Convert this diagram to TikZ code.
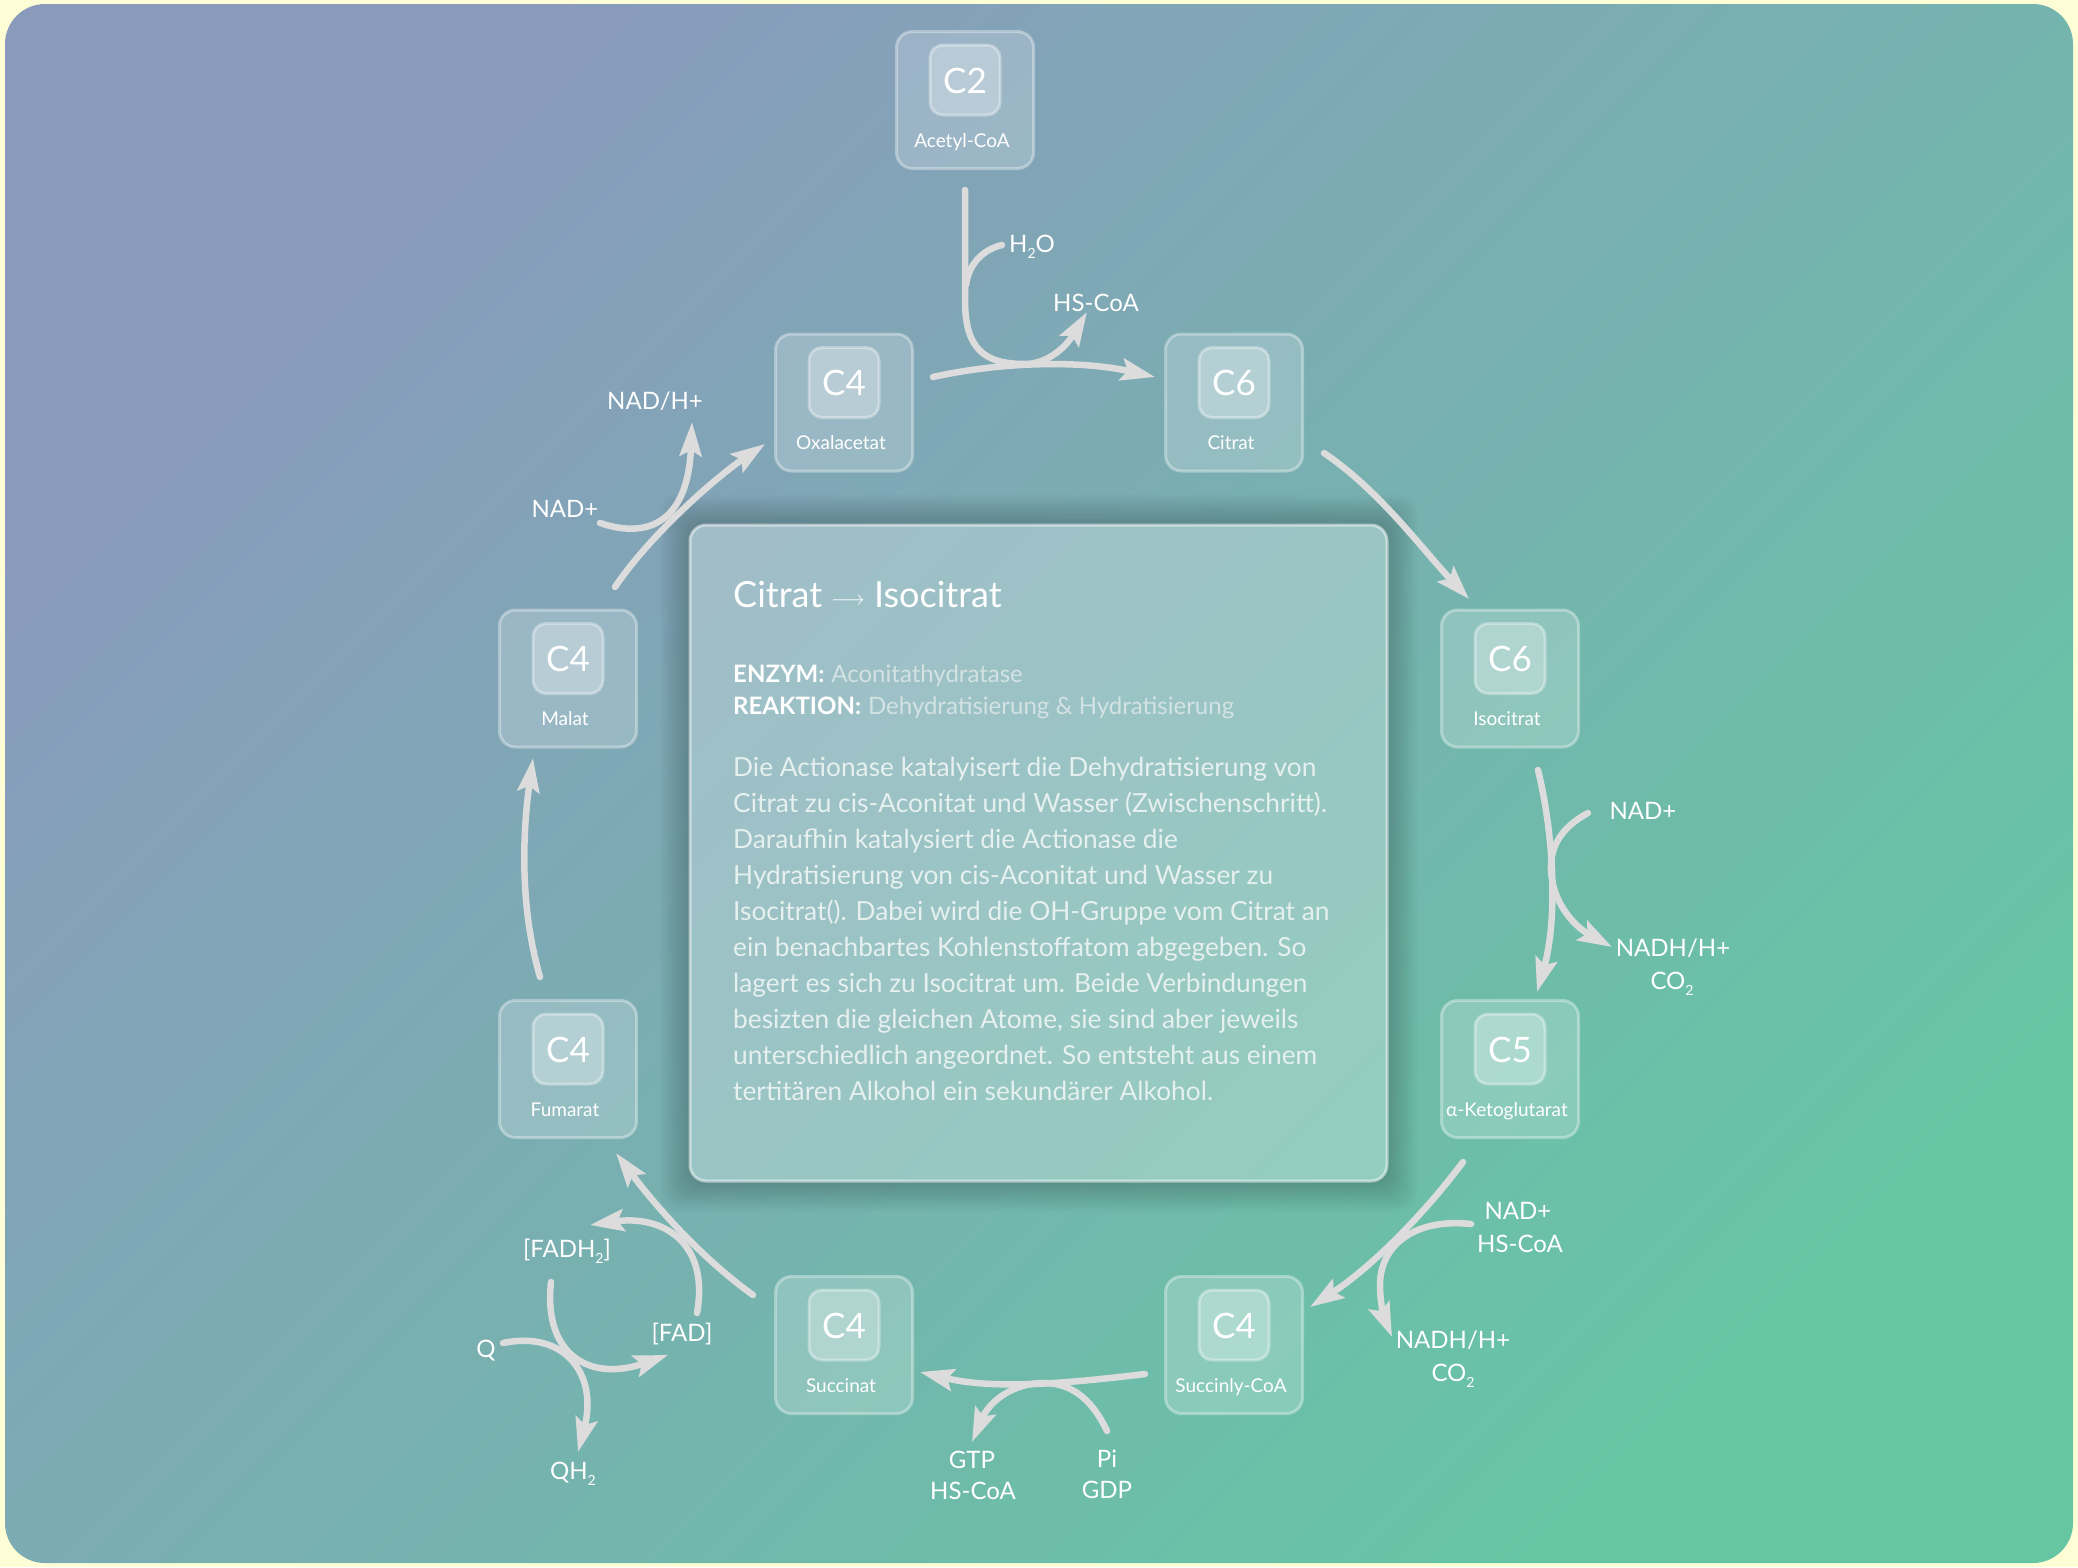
\documentclass[tikz,border=0pt]{standalone}
\usepackage{fontspec}
\setmainfont{Lato}
\usetikzlibrary{arrows.meta}
\definecolor{bgyellow}{HTML}{FEFED6}
\definecolor{gradA}{HTML}{8A9ABD}
\definecolor{gradB}{HTML}{66C6A4}
\definecolor{arrowgray}{HTML}{DCDCDC}
\definecolor{valcol}{HTML}{D3E2E3}
\definecolor{partext}{HTML}{E6F0EF}
\newcommand\lowidx[1]{\raisebox{-0.5ex}{\fontsize{14}{14}\selectfont #1}}
\newcommand\molbox[5]{%
  \node[outerbox] (#1) at (#2,#3) {};
  \node[innerbox] (#1in) at (#2,#3-20) {};
  \node[ctext] (#1c) at (#2,#3-7) {#4};
  \node[ntext] (#1l) at (#2-3,#3+47) {#5};
}
\tikzset{
  outerbox/.style={draw=white, draw opacity=0.35, line width=3pt, fill=white, fill opacity=0.2,
    rounded corners=16pt, minimum width=137pt, minimum height=137pt, inner sep=0pt},
  innerbox/.style={draw=white, draw opacity=0.35, line width=3pt, fill=white, fill opacity=0.3,
    rounded corners=13pt, minimum width=70pt, minimum height=70pt, inner sep=0pt},
  ctext/.style={anchor=base, inner sep=0pt, text=white, font=\fontsize{35}{35}\selectfont},
  ntext/.style={anchor=base, inner sep=0pt, text=white, font=\fontsize{19}{19}\selectfont},
  flow/.style={draw=arrowgray, line width=6.5pt, line cap=round},
  tip/.style={-{Stealth[length=34pt,width=22pt,inset=6pt]}},
  lbl/.style={anchor=base, inner sep=0pt, text=white, font=\fontsize{24}{24}\selectfont},
  partxt/.style={anchor=base west, inner sep=0pt, text=partext, font=\fontsize{26.3}{26.3}\selectfont},
}
\begin{document}
\begin{tikzpicture}[x=1pt,y=-1pt]
\useasboundingbox (0,0) rectangle (2078,1567);
\fill[bgyellow] (0,0) rectangle (2078,1567);
\shade[top color=gradA, bottom color=gradB, shading angle=45, rounded corners=40pt] (5,4) rectangle (2073,1563);

% panel shadow
\foreach \i in {1,...,10}{
  \fill[black, fill opacity=0.02, even odd rule, rounded corners=16pt]
    (690-3*\i,525-3*\i) rectangle (1387+3*\i,1181+3*\i) (690,525) rectangle (1387,1181);
}
\node[draw=white, draw opacity=0.5, line width=3pt, fill=white, fill opacity=0.26,
  rounded corners=16pt, minimum width=697pt, minimum height=656pt, inner sep=0pt] (panel) at (1038.5,853) {};

% molecules
\molbox{ac}{965}{100}{C2}{Acetyl-CoA}
\molbox{ox}{844}{402.5}{C4}{Oxalacetat}
\molbox{ci}{1234}{402.5}{C6}{Citrat}
\molbox{iso}{1510}{678.5}{C6}{Isocitrat}
\molbox{akg}{1510}{1069}{C5}{α-Ketoglutarat}
\molbox{sco}{1234}{1345}{C4}{Succinly-CoA}
\molbox{suc}{844}{1345}{C4}{Succinat}
\molbox{fum}{568}{1069}{C4}{Fumarat}
\molbox{mal}{568}{678.5}{C4}{Malat}

% panel text
\node[anchor=base west, inner sep=0pt, text=white, font=\fontsize{36}{36}\selectfont] (title) at (733,607)
  {Citrat {\fontsize{22}{22}\selectfont\raisebox{2pt}{$\longrightarrow$}} Isocitrat};
\node[anchor=base west, inner sep=0pt, font=\fontsize{24}{24}\selectfont] (enzym) at (733,682)
  {\textcolor{white}{\bfseries ENZYM:}\hspace{7pt}\textcolor{valcol}{Aconitathydratase}};
\node[anchor=base west, inner sep=0pt, font=\fontsize{24}{24}\selectfont] (reak) at (733,714)
  {\textcolor{white}{\bfseries REAKTION:}\hspace{7pt}\textcolor{valcol}{Dehydratisierung \& Hydratisierung}};
\node[partxt] (p1) at (733,776) {Die Actionase katalyisert die Dehydratisierung von};
\node[partxt] (p2) at (733,812.1) {Citrat zu cis-Aconitat und Wasser (Zwischenschritt).};
\node[partxt] (p3) at (733,848.2) {Daraufhin katalysiert die Actionase die};
\node[partxt] (p4) at (733,884.3) {Hydratisierung von cis-Aconitat und Wasser zu};
\node[partxt] (p5) at (733,920.4) {Isocitrat(). Dabei wird die OH-Gruppe vom Citrat an};
\node[partxt] (p6) at (733,956.5) {ein benachbartes Kohlenstoffatom abgegeben. So};
\node[partxt] (p7) at (733,992.6) {lagert es sich zu Isocitrat um. Beide Verbindungen};
\node[partxt] (p8) at (733,1028.7) {besizten die gleichen Atome, sie sind aber jeweils};
\node[partxt] (p9) at (733,1064.8) {unterschiedlich angeordnet. So entsteht aus einem};
\node[partxt] (p10) at (733,1100.9) {tertitären Alkohol ein sekundärer Alkohol.};

% connector end points
\coordinate (oxout) at (933,377);
\coordinate (ciin) at (1155,377);
\coordinate (acout) at (965,190);
\coordinate (hscoaA) at (1087,312);
\coordinate (h2oin) at (1002,245);
\coordinate (ciout) at (1324,453);
\coordinate (isoin) at (1469,599);
\coordinate (isoout) at (1538,770);
\coordinate (akgin) at (1537,992);
\coordinate (nadA) at (1588,813);
\coordinate (nadhA) at (1612,947);
\coordinate (akgout) at (1463,1162);
\coordinate (scoin) at (1310,1307);
\coordinate (nadB) at (1471,1224);
\coordinate (nadhB) at (1392,1337);
\coordinate (scoout) at (1145,1374);
\coordinate (sucin) at (920,1372);
\coordinate (pigdp) at (1107,1431);
\coordinate (gtp) at (972,1442);
\coordinate (sucout) at (753,1295);
\coordinate (fumin) at (616,1153);
\coordinate (fadin) at (697,1313);
\coordinate (fadh2out) at (590,1225);
\coordinate (fadh2in) at (551,1282);
\coordinate (fadout) at (668,1355);
\coordinate (qin) at (503,1343);
\coordinate (qh2out) at (578,1452);
\coordinate (fumout) at (540,977);
\coordinate (malin) at (533,758);
\coordinate (malout) at (615,587);
\coordinate (oxin) at (765,444);
\coordinate (nadC) at (600,523);
\coordinate (nadhC) at (692,422);

% connectors
\draw[flow,tip] (oxout) .. controls (1000,362) and (1080,360) .. (ciin);
\draw[flow,tip] (acout) -- (965,300) .. controls (965,350) and (985,364) .. (1025,364)
   .. controls (1045,364) and (1064,350) .. (hscoaA);
\draw[flow] (h2oin) .. controls (985,249) and (969,262) .. (966,285);

\draw[flow,tip] (ciout) .. controls (1380,491) and (1422,549) .. (isoin);

\draw[flow,tip] (isoout) .. controls (1555,840) and (1557,922) .. (akgin);
\draw[flow,tip] (nadA) .. controls (1560,828) and (1550,848) .. (1551,870)
   .. controls (1552,900) and (1572,925) .. (nadhA);

\draw[flow,tip] (akgout) .. controls (1421,1218) and (1369,1269) .. (scoin);
\draw[flow,tip] (nadB) .. controls (1415,1218) and (1380,1245) .. (1380,1285)
   .. controls (1380,1305) and (1385,1320) .. (nadhB);

\draw[flow,tip] (scoout) .. controls (1070,1383) and (995,1390) .. (sucin);
\draw[flow,tip] (pigdp) .. controls (1090,1395) and (1068,1383) .. (1043,1383)
   .. controls (1015,1383) and (990,1400) .. (gtp);

\draw[flow,tip] (sucout) .. controls (700,1257) and (655,1205) .. (fumin);
\draw[flow,tip] (fadin) .. controls (710,1240) and (660,1215) .. (fadh2out);
\draw[flow,tip] (fadh2in) .. controls (543,1355) and (590,1382) .. (fadout);
\draw[flow,tip] (qin) .. controls (565,1330) and (598,1375) .. (qh2out);

\draw[flow,tip] (fumout) .. controls (519,904) and (523,830) .. (malin);

\draw[flow,tip] (malout) .. controls (650,535) and (715,478) .. (oxin);
\draw[flow,tip] (nadC) .. controls (650,540) and (688,520) .. (nadhC);

% labels
\node[lbl] (lh2o) at (1032,252) {H\lowidx{2}O};
\node[lbl] (lhscoa1) at (1096,311) {HS-CoA};
\node[lbl] (lnad1) at (1643,819) {NAD+};
\node[lbl] (lnadh1) at (1673,956) {NADH/H+};
\node[lbl] (lco21) at (1672,989) {CO\lowidx{2}};
\node[lbl] (lnad2) at (1518,1219) {NAD+};
\node[lbl] (lhscoa2) at (1520,1252) {HS-CoA};
\node[lbl] (lnadh2) at (1453,1348) {NADH/H+};
\node[lbl] (lco22) at (1453,1381) {CO\lowidx{2}};
\node[lbl] (lgtp) at (972,1468) {GTP};
\node[lbl] (lhscoa3) at (973,1499) {HS-CoA};
\node[lbl] (lpi) at (1107,1467) {Pi};
\node[lbl] (lgdp) at (1107,1498) {GDP};
\node[lbl] (lfadh2) at (567,1257) {[FADH\lowidx{2}]};
\node[lbl] (lfad) at (682,1341) {[FAD]};
\node[lbl] (lq) at (486,1357) {Q};
\node[lbl] (lqh2) at (573,1479) {QH\lowidx{2}};
\node[lbl] (lnad3) at (565,517) {NAD+};
\node[lbl] (lnadh3) at (655,409) {NAD/H+};
\end{tikzpicture}
\end{document}
